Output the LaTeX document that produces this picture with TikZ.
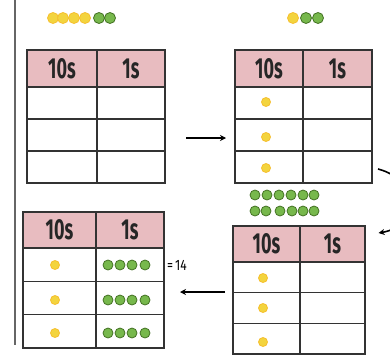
\documentclass[tikz,border=0pt]{standalone}
\usepackage{fontspec}
\setmainfont{Fira Sans}
\usetikzlibrary{arrows.meta,calc}
\definecolor{headpink}{RGB}{232,188,192}
\definecolor{tenyellow}{RGB}{243,212,62}
\definecolor{oneg}{RGB}{104,176,56}

\tikzset{
  gridline/.style={line width=1.4pt, draw=black!80},
  headtext/.style={font=\fontsize{29}{29}\selectfont\bfseries, xscale=0.62, inner sep=0pt, text=black!85},
  flowarrow/.style={line width=1.6pt, -{Stealth[length=6pt,width=6pt]}},
}

% one tens counter and one ones counter
\newcommand{\tendot}[3][4.5]{\filldraw[fill=tenyellow, draw=tenyellow!75!orange, line width=0.8pt] (#2,#3) circle (#1);}
\newcommand{\onedot}[3][5]{\filldraw[fill=oneg!90!white, draw=oneg!65!black, line width=0.8pt] (#2,#3) circle (#1);}

% place value table: name, left, divider, right, top, header bottom, bottom
\newcommand{\pvtable}[7]{%
  \fill[headpink] (#2,#5) rectangle (#4,#6);
  \foreach \k in {1,2}{
    \draw[gridline] (#2,{#6+\k*(#7-#6)/3}) -- (#4,{#6+\k*(#7-#6)/3});
  }
  \draw[gridline] (#3,#5) -- (#3,#7);
  \draw[gridline, line width=2.2pt] (#2,#6) -- (#4,#6);
  \draw[gridline] (#2,#5) rectangle (#4,#7);
  \node[headtext] (#1ten) at ({(#2+#3)/2},{(#5+#6)/2}) {10s};
  \node[headtext] (#1one) at ({(#3+#4)/2},{(#5+#6)/2}) {1s};
  \coordinate (#1w) at (#2,{(#6+#7)/2});
  \coordinate (#1e) at (#4,{(#6+#7)/2});
}

\begin{document}
\begin{tikzpicture}[x=1pt,y=-1pt]
\useasboundingbox (0,0) rectangle (390,356);
\fill[white] (0,0) rectangle (390,356);
\draw[black!60, line width=1.3pt] (15,0) -- (15,345);

% the four tables
\pvtable{A}{27}{97}{165}{50}{87}{183}
\pvtable{B}{235}{303}{372}{50}{87}{183}
\pvtable{C}{23}{96}{164}{212}{248}{348}
\pvtable{D}{233}{300}{365}{226}{262}{354}

% counters to place
\foreach \x in {53,63,74,85} {\tendot[5.5]{\x}{18}}
\foreach \x in {99,110} {\onedot[5.5]{\x}{18}}
\tendot[5.5]{293}{18}
\foreach \x in {306,318} {\onedot[5.5]{\x}{18}}

% tens in the tables
\foreach \y in {102,137,168} {\tendot{266}{\y}}
\foreach \y in {278,308,342} {\tendot{263}{\y}}
\foreach \y in {265,300,333} {\tendot{55}{\y}}

% ones regrouped
\foreach \x in {255,267,279,291,303,314} {\onedot{\x}{195}}
\foreach \x in {255,266,280,292,303,314} {\onedot{\x}{211}}
\foreach \y in {265,300,333}{
  \foreach \x in {108,120,132,145} {\onedot{\x}{\y}}
}
\node[font=\fontsize{15}{15}\selectfont, xscale=0.8, inner sep=0pt, anchor=west] (sum) at (167,265) {=\,14};

% arrows between the steps
\coordinate (a1) at ($(Ae)+(21,3)$);
\coordinate (a2) at ($(Bw)+(-9,3)$);
\coordinate (b1) at ($(Dw)+(-8,-16)$);
\coordinate (b2) at ($(Ce)+(16,-6)$);
\coordinate (c1) at ($(Be)+(6,34)$);
\coordinate (c2) at ($(Dten)+(112,-11)$);
\draw[flowarrow] (a1) -- (a2);
\draw[flowarrow] (b1) -- (b2);
\draw[flowarrow] (c1) .. controls (420,180) and (420,226) .. (c2);
\end{tikzpicture}
\end{document}
